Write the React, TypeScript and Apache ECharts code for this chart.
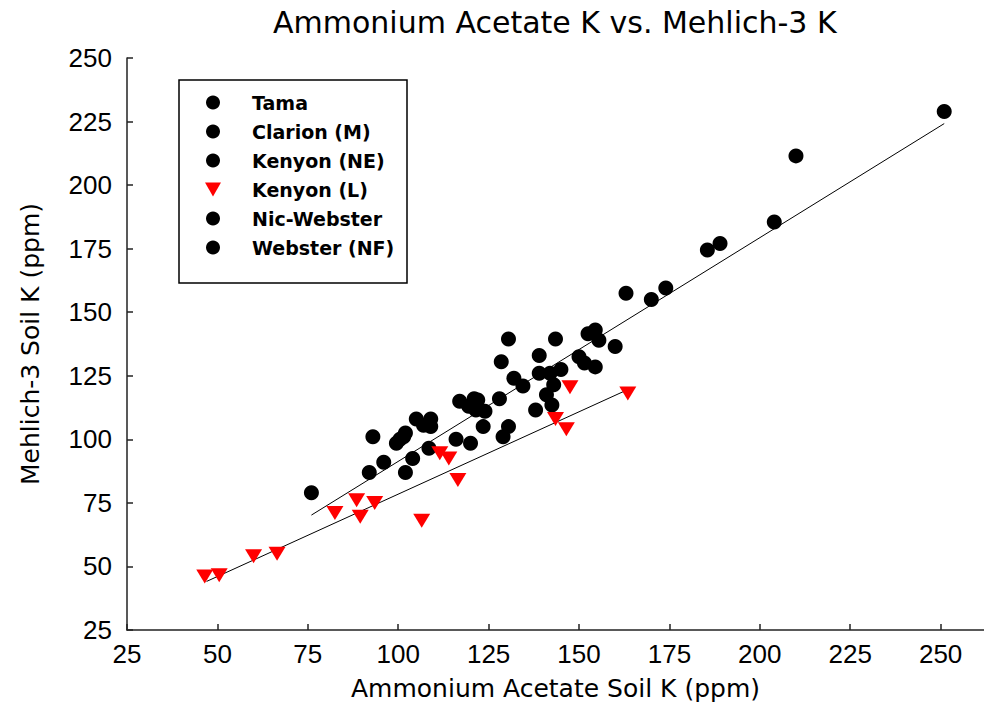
import React, { useEffect, useRef } from "react";
import * as echarts from "echarts";

const seriesNames = ["Tama", "Clarion (M)", "Kenyon (NE)", "Kenyon (L)", "Nic-Webster", "Webster (NF)"];

const tama: number[][] = [
  [93, 101], [105, 108], [109, 108], [128.5, 130.5], [130.5, 139.5], [139, 133],
  [143.5, 139.5], [152.5, 141.5], [154.5, 143], [163, 157.5], [251, 229],
];
const clarionM: number[][] = [
  [76, 79], [92, 87], [96, 91], [102, 87], [104, 92.5], [108.5, 96.5],
  [116, 100], [120, 98.5], [129, 101], [130.5, 105],
];
const kenyonNE: number[][] = [
  [99.5, 98.5], [100.5, 100], [101.5, 101], [102, 102.5], [107, 105.5],
  [109, 105], [123.5, 105], [138, 111.5], [142.5, 113.5],
];
const kenyonL: number[][] = [
  [46.5, 46], [50.5, 46.5], [60, 54], [66.5, 55], [82.5, 71], [88.5, 76],
  [89.5, 69.5], [93.5, 75], [106.5, 68], [111.5, 94.5], [114, 92.5], [116.5, 84],
  [143.5, 108], [146.5, 104], [147.5, 120.5], [163.5, 118],
];
const nicWebster: number[][] = [
  [117, 115], [119.5, 113], [121, 116], [121.5, 111.5], [122, 115.5], [124, 111],
  [128, 116], [132, 124], [134.5, 121], [139, 126], [141, 117.5], [142, 126],
  [143, 121.5], [145, 127.5],
];
const websterNF: number[][] = [
  [150, 132.5], [151.5, 130], [154.5, 128.5], [155.5, 139], [160, 136.5],
  [170, 155], [174, 159.5], [185.5, 174.5], [189, 177], [204, 185.5], [210, 211.5],
];
const kenyonLFit: number[][] = [[47, 44.1], [164, 119.9]];
const othersFit: number[][] = [[76, 70.2], [251, 224.2]];

const triPath = "path://M0,0L16,0L8,14Z";

export default function App() {
  const ref = useRef<HTMLDivElement>(null);
  useEffect(() => {
    if (!ref.current) return;
    const chart = echarts.init(ref.current, undefined, { renderer: "svg" });
    const black = (name: string, data: number[][]) => ({
      name,
      type: "scatter",
      data,
      symbol: "circle",
      symbolSize: 15,
      itemStyle: { color: "#000", opacity: 1 },
      z: 3,
    });
    const fit = (data: number[][]) => ({
      type: "line",
      data,
      showSymbol: false,
      symbol: "none",
      lineStyle: { color: "#000", width: 1 },
      z: 2,
      silent: true,
    });
    chart.setOption({
      animation: false,
      backgroundColor: "#fff",
      title: {
        text: "Ammonium Acetate K vs. Mehlich-3 K",
        left: 268,
        top: 2,
        textStyle: { fontFamily: "DejaVu Sans", fontSize: 30, fontWeight: "normal", color: "#000" },
      },
      graphic: [
        {
          type: "rect",
          shape: { x: 179, y: 80, width: 228, height: 203 },
          style: { fill: "none", stroke: "#000", lineWidth: 1.5 },
          z: 10,
        },
      ],
      legend: {
        data: [
          { name: "Tama", icon: "circle" },
          { name: "Clarion (M)", icon: "circle" },
          { name: "Kenyon (NE)", icon: "circle" },
          { name: "Kenyon (L)", icon: triPath },
          { name: "Nic-Webster", icon: "circle" },
          { name: "Webster (NF)", icon: "circle" },
        ],
        orient: "vertical",
        left: 205,
        top: 93,
        padding: 0,
        itemWidth: 68,
        itemHeight: 14,
        itemGap: 10,
        selectedMode: false,
        textStyle: { fontFamily: "DejaVu Sans", fontWeight: "bold", fontSize: 19, color: "#000" },
      },
      grid: { left: 127, right: 0, top: 58, bottom: 81, containLabel: false },
      xAxis: {
        type: "value",
        min: 25,
        max: 262,
        interval: 25,
        name: "Ammonium Acetate Soil K (ppm)",
        nameLocation: "middle",
        nameGap: 46,
        nameTextStyle: { fontFamily: "DejaVu Sans", fontSize: 25, color: "#000" },
        axisLine: { show: true, lineStyle: { color: "#222", width: 1.5 } },
        axisTick: { show: true, inside: true, length: 6, lineStyle: { color: "#222", width: 1.5 } },
        splitLine: { show: false },
        axisLabel: {
          fontFamily: "Liberation Sans",
          fontSize: 26,
          color: "#000",
          margin: 11,
          showMaxLabel: false,
          formatter: (v: number) => (v % 25 === 0 ? String(v) : ""),
        },
      },
      yAxis: {
        type: "value",
        min: 25,
        max: 250,
        interval: 25,
        name: "Mehlich-3 Soil K (ppm)",
        nameLocation: "middle",
        nameGap: 84,
        nameTextStyle: { fontFamily: "DejaVu Sans", fontSize: 25, color: "#000" },
        axisLine: { show: true, lineStyle: { color: "#222", width: 1.5 } },
        axisTick: { show: true, inside: true, length: 6, lineStyle: { color: "#222", width: 1.5 } },
        splitLine: { show: false },
        axisLabel: { fontFamily: "Liberation Sans", fontSize: 26, color: "#000", margin: 15 },
      },
      series: [
        black(seriesNames[0], tama),
        black(seriesNames[1], clarionM),
        black(seriesNames[2], kenyonNE),
        {
          name: seriesNames[3],
          type: "scatter",
          data: kenyonL,
          symbol: triPath,
          symbolSize: [17, 14],
          itemStyle: { color: "#ff0000", opacity: 1 },
          z: 4,
        },
        black(seriesNames[4], nicWebster),
        black(seriesNames[5], websterNF),
        fit(kenyonLFit),
        fit(othersFit),
      ],
    });
    return () => chart.dispose();
  }, []);
  return (
    <div
      ref={ref}
      style={{ position: "fixed", left: 0, top: 0, width: 984, height: 711, background: "#fff" }}
    />
  );
}
